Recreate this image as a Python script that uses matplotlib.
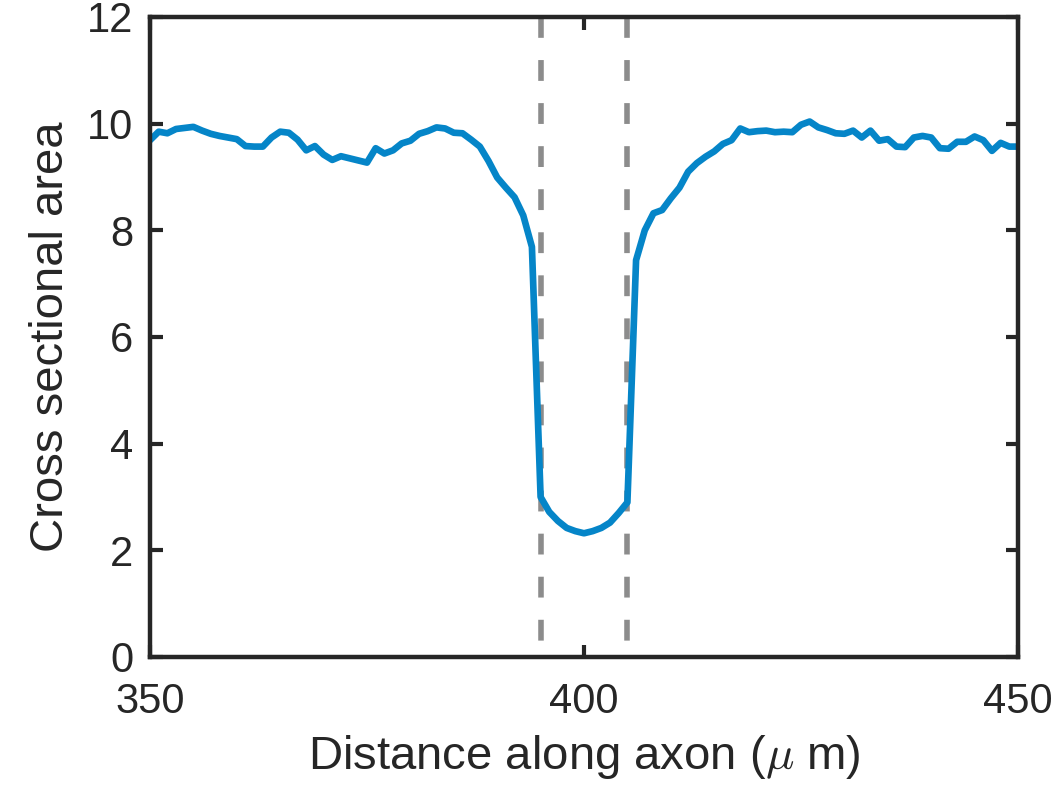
import matplotlib
matplotlib.use('Agg')
import matplotlib.pyplot as plt

# distance along axon (um) and cross sectional area
distance = list(range(350, 451))
area = [
    9.69, 9.85, 9.82, 9.90, 9.92, 9.94, 9.87, 9.81, 9.77, 9.74,
    9.71, 9.58, 9.57, 9.57, 9.74, 9.85, 9.83, 9.70, 9.50, 9.58,
    9.42, 9.32, 9.39, 9.35, 9.31, 9.27, 9.54, 9.44, 9.50, 9.63,
    9.68, 9.81, 9.86, 9.93, 9.91, 9.83, 9.82, 9.70, 9.57, 9.30,
    8.99, 8.80, 8.62, 8.28, 7.69, 3.00, 2.72, 2.55, 2.42, 2.36,
    2.32, 2.36, 2.42, 2.52, 2.70, 2.90, 7.44, 8.00, 8.32, 8.38,
    8.60, 8.80, 9.10, 9.26, 9.38, 9.48, 9.62, 9.69, 9.91, 9.84,
    9.86, 9.87, 9.84, 9.85, 9.84, 9.98, 10.04, 9.93, 9.88, 9.82,
    9.81, 9.87, 9.74, 9.87, 9.68, 9.71, 9.57, 9.56, 9.74, 9.77,
    9.74, 9.54, 9.53, 9.66, 9.66, 9.76, 9.69, 9.49, 9.64, 9.57,
    9.57,
]
bounds = [395, 405]
xticks = [350, 400, 450]
yticks = [0, 2, 4, 6, 8, 10, 12]

plt.rcParams['font.family'] = ['Liberation Sans', 'DejaVu Sans']
plt.rcParams['mathtext.fontset'] = 'cm'
plt.rcParams['lines.scale_dashes'] = False

dark = '#262626'

fig = plt.figure(figsize=(10.59, 7.89), dpi=100)
ax = fig.add_axes((150 / 1059, 1 - 657 / 789, 868 / 1059, 640 / 789))

for b in bounds:
    ax.plot([b, b], [12, 0], color='#8c8c8c', lw=4, dashes=(15, 16),
            zorder=1, clip_on=False)

ax.plot(distance, area, color='#0585c8', lw=4.8, zorder=2)

ax.set_xlim(350, 450)
ax.set_ylim(0, 12)
ax.set_xticks(xticks)
ax.set_yticks(yticks)

for s in ax.spines.values():
    s.set_linewidth(3.2)
    s.set_color(dark)

ax.tick_params(direction='in', length=9, width=3, colors=dark,
               labelsize=30, top=True, right=True)
ax.tick_params(axis='x', pad=18)
ax.tick_params(axis='y', pad=12)
ax.set_xlabel(r'Distance along axon ($\mu$ m)', fontsize=34, color=dark, labelpad=8)
ax.set_ylabel('Cross sectional area', fontsize=34, color=dark, labelpad=10)

fig.savefig('out.png', dpi=100)
